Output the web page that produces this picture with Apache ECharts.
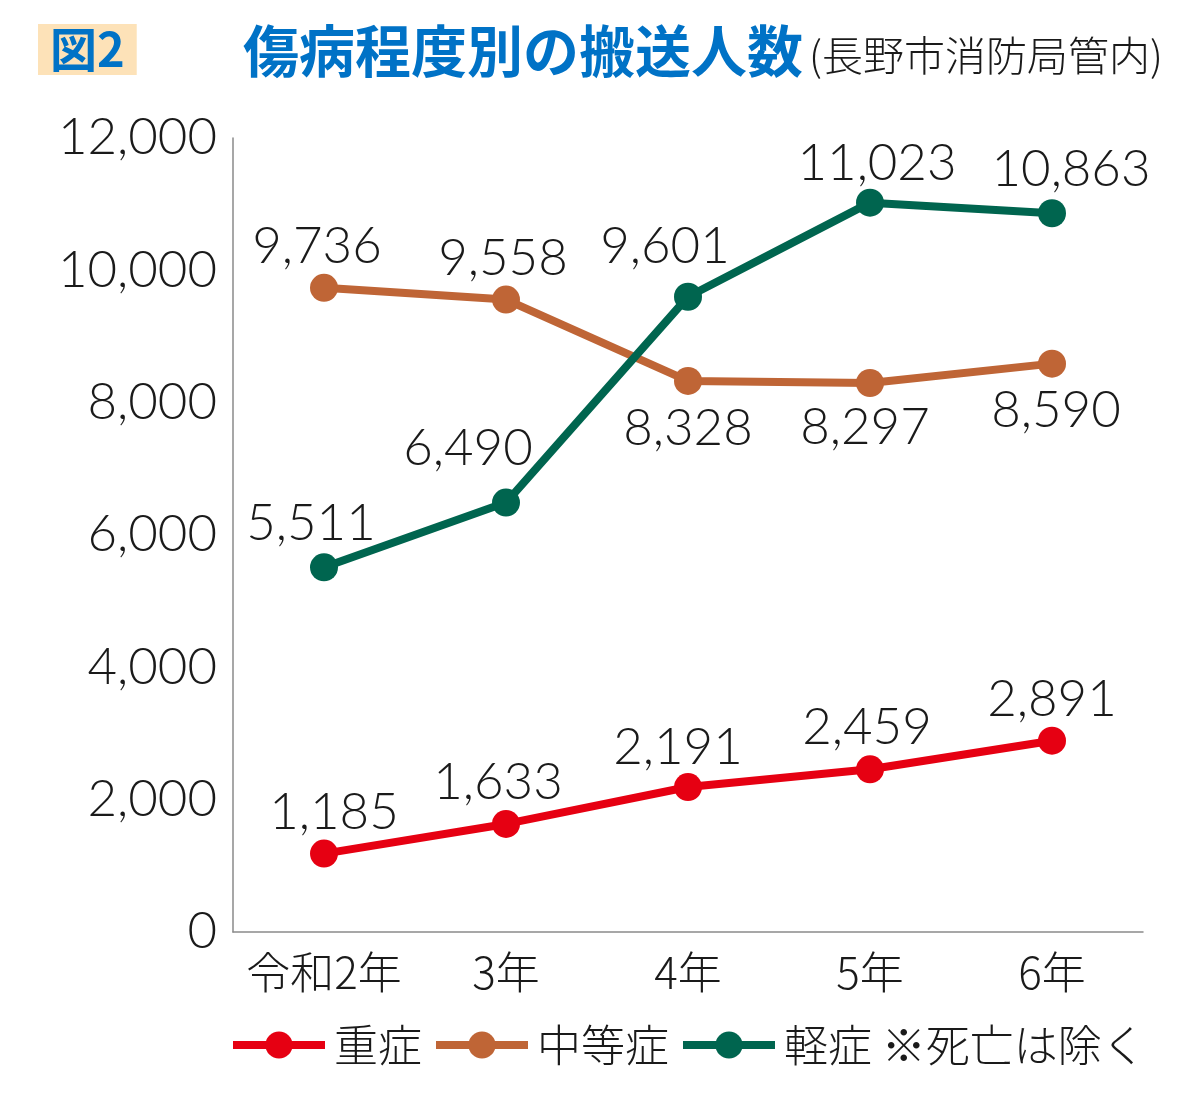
<!DOCTYPE html>
<html>
<head>
<meta charset="utf-8">
<script src="https://cdn.jsdelivr.net/npm/echarts@6/dist/echarts.min.js"></script>
<style>
  html, body { margin: 0; padding: 0; background: #fff; }
  #chart { width: 1200px; height: 1112px; }
</style>
</head>
<body>
<div id="chart"></div>
<script>
// data
const years = ['令和2年', '3年', '4年', '5年', '6年']
const severe = [1185, 1633, 2191, 2459, 2891]     // 重症
const moderate = [9736, 9558, 8328, 8297, 8590]   // 中等症
const mild = [5511, 6490, 9601, 11023, 10863]     // 軽症

const FONT = 'Lato, "Noto Sans CJK JP", sans-serif'
const JP = '"Noto Sans CJK JP", sans-serif'

// label placement per point: [position, dx, dy] (kept apart from values)
const severeLabelPos = [['top', 10, 0], ['top', -8, 0], ['top', -10, 2], ['top', -3, 0], ['top', 0, 0]]
const moderateLabelPos = [['top', -7, 0], ['top', -3, 0], ['bottom', 0, 6], ['bottom', -5, 3], ['bottom', 4, 5]]
const mildLabelPos = [['top', -13, -2], ['top', -38, -13], ['top', -23, -9], ['top', 7, 2], ['top', 19, -2]]

const fmt = v => v.toLocaleString('en-US')

const withLabels = (values, pos) => values.map((v, i) => ({
  value: v,
  label: { position: pos[i][0], offset: [pos[i][1], pos[i][2]] }
}))

const lineSeries = (name, color, values, pos) => ({
  name,
  type: 'line',
  data: withLabels(values, pos),
  symbol: 'circle',
  symbolSize: 28,
  lineStyle: { color, width: 8 },
  itemStyle: { color },
  label: {
    show: true,
    distance: 2,
    fontFamily: FONT,
    fontWeight: 300,
    fontSize: 51,
    color: '#1a1a1a',
    formatter: p => fmt(p.value)
  },
  emphasis: { disabled: true },
  animation: false
})

const chart = echarts.init(document.getElementById('chart'), null, { renderer: 'canvas' })

chart.setOption({
  backgroundColor: '#fff',
  title: [
    {
      text: '図2',
      left: 38,
      top: 24,
      padding: [2, 12, 2, 12],
      backgroundColor: '#fde2b8',
      textStyle: { color: '#0072c6', fontSize: 47, fontWeight: 'bold', fontFamily: JP }
    },
    {
      text: '傷病程度別の搬送人数{s|(長野市消防局管内)}',
      left: 238,
      top: 18,
      textStyle: {
        color: '#0072c6', fontSize: 56, fontWeight: 'bold', fontFamily: JP,
        rich: { s: { color: '#1a1a1a', fontSize: 41, fontFamily: JP, fontWeight: 300, padding: [8, 0, 0, 6] } }
      }
    }
  ],
  legend: {
    left: 224,
    top: 1018,
    itemWidth: 92,
    itemHeight: 34,
    itemGap: 10,
    data: ['重症', '中等症', '軽症'],
    lineStyle: { width: 8 },
    formatter: n => n === '軽症' ? '軽症 ※死亡は除く' : n,
    textStyle: { fontSize: 44, color: '#1a1a1a', fontFamily: JP, fontWeight: 300, padding: [0, 0, 0, 4] }
  },
  grid: { left: 233, right: 57, top: 138, bottom: 180, containLabel: false },
  xAxis: {
    type: 'category',
    data: years,
    boundaryGap: true,
    axisLine: { lineStyle: { color: '#8a8a8a', width: 1.5 } },
    axisTick: { show: false },
    axisLabel: { interval: 0, fontSize: 44, color: '#1a1a1a', fontFamily: JP, fontWeight: 300, margin: 18 }
  },
  yAxis: {
    type: 'value',
    min: 0,
    max: 12000,
    interval: 2000,
    axisLine: { show: true, lineStyle: { color: '#8a8a8a', width: 1.5 } },
    axisTick: { show: false },
    splitLine: { show: false },
    axisLabel: {
      fontSize: 51, color: '#1a1a1a', fontFamily: FONT, fontWeight: 300, margin: 16,
      formatter: v => fmt(v)
    }
  },
  series: [
    lineSeries('重症', '#e60012', severe, severeLabelPos),
    lineSeries('中等症', '#bf6536', moderate, moderateLabelPos),
    lineSeries('軽症', '#00654f', mild, mildLabelPos)
  ]
})
</script>
</body>
</html>
